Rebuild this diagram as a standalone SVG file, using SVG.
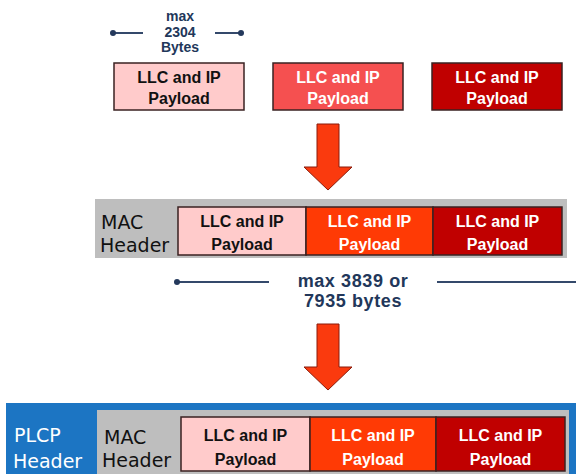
<svg xmlns="http://www.w3.org/2000/svg" width="576" height="474" viewBox="0 0 576 474">
<defs>
<style>
.box{stroke:#3a2222;stroke-width:1.5}
.p1{fill:#FFCBCB}
.p2{fill:#F55050}
.p3{fill:#FF3A05}
.p4{fill:#C00000}
.lt{font-family:"Liberation Sans",Arial,sans-serif;font-weight:bold;font-size:16px;text-anchor:middle}
.dk{fill:#111}
.wh{fill:#fff}
.hdr{font-family:"DejaVu Sans",Verdana,sans-serif;font-size:19px;fill:#111}
.sz{font-family:"Liberation Sans",Arial,sans-serif;font-weight:bold;fill:#22375a;text-anchor:middle}
.arrow{fill:#FA3A0E;stroke:#8a1a0a;stroke-width:1}
.dim{stroke:#34496b;stroke-width:2;fill:none}
.dot{fill:#24395c}
</style>
</defs>
<rect width="576" height="474" fill="#fff"/>

<g id="size-2304">
<line class="dim" x1="113" y1="33" x2="143" y2="33"/>
<line class="dim" x1="215" y1="33" x2="241" y2="33"/>
<circle class="dot" cx="113" cy="33" r="3"/>
<circle class="dot" cx="241" cy="33" r="3"/>
<text class="sz" font-size="14" x="180" y="21">max</text>
<text class="sz" font-size="14" x="180" y="37">2304</text>
<text class="sz" font-size="14" x="180" y="52">Bytes</text>
</g>

<g id="payload-1">
<rect class="box p1" x="114" y="63" width="130" height="47"/>
<text class="lt dk" x="179" y="83">LLC and IP</text>
<text class="lt dk" x="179" y="104">Payload</text>
</g>
<g id="payload-2">
<rect class="box p2" x="273" y="63" width="130" height="47"/>
<text class="lt wh" x="338" y="83">LLC and IP</text>
<text class="lt wh" x="338" y="104">Payload</text>
</g>
<g id="payload-3">
<rect class="box p4" x="432" y="63" width="130" height="47"/>
<text class="lt wh" x="497" y="83">LLC and IP</text>
<text class="lt wh" x="497" y="104">Payload</text>
</g>

<g id="connectors">
<path class="arrow" d="M317,124 H339 V167 H352 L328,190 L304,167 H317 Z"/>
<path class="arrow" d="M317,324 H339 V367 H352 L328,390 L304,367 H317 Z"/>
</g>

<g id="mac-frame">
<rect x="95" y="199" width="472" height="59" fill="#BEBEBE"/>
<text class="hdr" x="101" y="229">MAC</text>
<text class="hdr" x="100" y="252">Header</text>
<rect class="box p1" x="178" y="207" width="128" height="48"/>
<text class="lt dk" x="242" y="227">LLC and IP</text>
<text class="lt dk" x="242" y="250">Payload</text>
<rect class="box p3" x="306" y="207" width="127" height="48"/>
<text class="lt wh" x="369.500" y="227">LLC and IP</text>
<text class="lt wh" x="369.500" y="250">Payload</text>
<rect class="box p4" x="433" y="207" width="129" height="48"/>
<text class="lt wh" x="497.500" y="227">LLC and IP</text>
<text class="lt wh" x="497.500" y="250">Payload</text>
</g>

<g id="size-3839">
<line class="dim" x1="177" y1="282" x2="269" y2="282" stroke="#4a5a74"/>
<line class="dim" x1="437" y1="282" x2="576" y2="282" stroke="#5a6578"/>
<circle class="dot" cx="177" cy="282" r="3"/>
<text class="sz" font-size="18" letter-spacing="0.6" x="353" y="287">max 3839 or</text>
<text class="sz" font-size="18" letter-spacing="0.6" x="353" y="307">7935 bytes</text>
</g>

<g id="plcp-frame">
<rect x="6" y="403" width="570" height="71" fill="#1C75C3"/>
<text class="hdr" x="14" y="442" style="fill:#fff">PLCP</text>
<text class="hdr" x="13" y="468" style="fill:#fff">Header</text>
<rect x="97" y="410" width="472" height="64" fill="#BEBEBE"/>
<text class="hdr" x="104" y="444">MAC</text>
<text class="hdr" x="102" y="467">Header</text>
<rect class="box p1" x="181" y="417" width="129" height="54"/>
<text class="lt dk" x="245.500" y="441">LLC and IP</text>
<text class="lt dk" x="245.500" y="465">Payload</text>
<rect class="box p3" x="310" y="417" width="126" height="54"/>
<text class="lt wh" x="373" y="441">LLC and IP</text>
<text class="lt wh" x="373" y="465">Payload</text>
<rect class="box p4" x="436" y="417" width="129" height="54"/>
<text class="lt wh" x="500.500" y="441">LLC and IP</text>
<text class="lt wh" x="500.500" y="465">Payload</text>
</g>
</svg>
